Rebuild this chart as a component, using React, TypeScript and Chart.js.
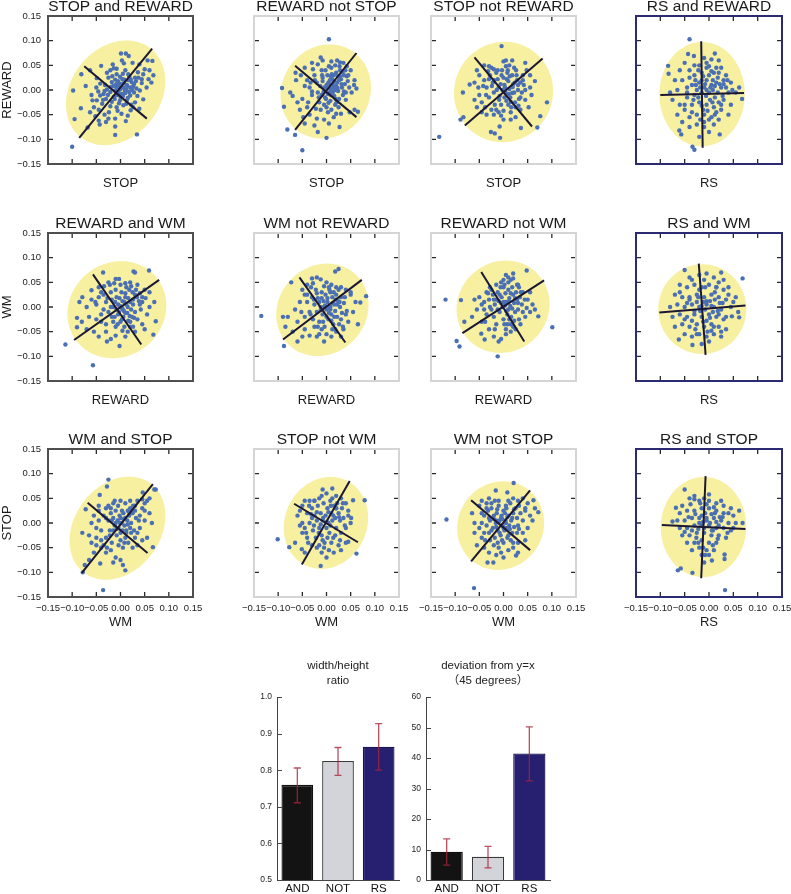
import React, { useEffect, useRef } from 'react';
import { Chart, registerables } from 'chart.js';

Chart.register(...registerables);
Chart.defaults.font.family = '"Liberation Sans", Arial, "Noto Sans CJK JP", sans-serif';
Chart.defaults.color = '#222';

type Pt = [number, number];

// ---------- tick values / labels ----------
const AXIS_TICKS = [-0.15, -0.1, -0.05, 0, 0.05, 0.1, 0.15];
const INNER_TICKS = [-0.1, -0.05, 0, 0.05, 0.1];

const PANEL_TITLES = [
  'STOP and REWARD', 'REWARD not STOP', 'STOP not REWARD', 'RS and REWARD',
  'REWARD and WM', 'WM not REWARD', 'REWARD not WM', 'RS and WM',
  'WM and STOP', 'STOP not WM', 'WM not STOP', 'RS and STOP',
];
const X_LABELS = [
  'STOP', 'STOP', 'STOP', 'RS',
  'REWARD', 'REWARD', 'REWARD', 'RS',
  'WM', 'WM', 'WM', 'RS',
];
const Y_LABELS = ['REWARD', 'WM', 'STOP'];

// ---------- scatter points ----------
const stopAndReward: Pt[] = [
  [-0.100,-0.115],[0.034,-0.090],[-0.098,-0.001],[-0.095,-0.059],[-0.081,0.032],[-0.082,-0.037],[-0.063,0.040],[-0.068,-0.076],[-0.072,0.008],
  [0.001,0.074],[0.011,0.074],[0.017,0.069],[0.056,0.060],[0.066,0.059],[0.039,0.052],[0.025,0.055],[0.007,0.054],[0.047,0.032],[0.068,0.030],[0.064,0.015],[0.044,0.014],[0.030,0.025],[0.016,0.032],[0.005,0.033],[-0.008,0.043],[-0.014,0.044],[-0.021,0.040],[-0.028,0.035],[-0.040,0.049],[-0.049,0.024],[-0.046,-0.003],[-0.042,-0.011],[-0.049,-0.021],[-0.058,-0.021],[-0.038,-0.028],[-0.063,-0.045],[-0.052,-0.053],[-0.043,-0.070],[-0.045,-0.062],[-0.033,-0.050],[-0.025,-0.058],[-0.011,-0.058],[-0.011,-0.074],[-0.011,-0.091],[0.002,-0.048],[0.011,-0.063],[0.021,-0.041],[0.026,-0.035],[0.039,-0.038],[0.047,-0.019],[0.035,-0.012],[0.013,-0.021],[-0.001,-0.021],[-0.014,-0.014],[-0.021,-0.004],[-0.028,0.001],[-0.035,-0.008],[-0.008,0.006],[-0.001,0.013],[0.006,0.005],[0.013,0.010],[0.020,0.005],[0.026,0.007],[0.033,0.003],[0.009,-0.002],[-0.004,-0.006],[-0.011,-0.001],[-0.018,0.016],[-0.011,0.021],[-0.025,0.025],[0.016,0.020],[0.023,0.016],[0.008,0.021],[-0.001,0.027],[-0.008,0.032],[0.040,-0.001],[0.054,0.005],[-0.042,0.013],[-0.021,-0.033],[-0.008,-0.035],[0.006,-0.031],[-0.030,-0.018],[0.000,-0.014],[0.020,-0.011],[-0.001,0.001],
  [0.003,-0.008],[0.012,0.001],[-0.015,0.008],[0.018,-0.004],[-0.005,0.018],[0.028,0.012],[-0.032,0.010],[-0.018,-0.024],[0.010,0.040],[-0.006,-0.042],[0.030,-0.025],[-0.055,-0.035],[0.050,0.042],[0.058,0.022],[-0.030,-0.065],[0.015,-0.052],
  [-0.004,0.010],[0.007,0.014],[0.015,-0.016],[-0.020,0.006],[0.024,0.000],[-0.012,-0.018],[0.004,0.022],[-0.026,-0.010],[0.032,0.018],[0.018,0.028],[-0.036,-0.020],[0.012,-0.028],[-0.003,-0.027],[0.028,-0.005],[-0.017,0.028],[0.037,0.025],[0.044,0.022],[-0.045,-0.040],[-0.024,-0.045],[0.005,-0.012],[-0.009,0.012],[0.021,0.022],[-0.033,-0.002],[0.010,-0.006],[0.000,0.004],[-0.007,-0.010],[0.014,0.008],[0.036,0.036],[-0.050,0.005],[0.022,-0.030],[0.060,0.040],[-0.016,0.052],[0.003,0.060],[-0.060,-0.010],
];
const rewardNotStop: Pt[] = [
  [0.005,0.103],[-0.050,-0.122],[-0.092,0.004],[-0.081,-0.080],[-0.065,-0.091],[0.000,-0.097],[-0.088,-0.034],[0.027,-0.075],[0.065,-0.044],[0.057,0.010],
  [-0.063,0.020],[-0.075,-0.005],[-0.070,-0.012],[-0.064,0.035],[-0.053,0.030],[-0.045,0.045],[-0.030,0.055],[-0.012,0.066],[-0.008,0.060],[0.010,0.058],[0.022,0.060],[0.028,0.056],[0.035,0.055],[0.042,0.048],[0.050,0.040],[0.045,0.030],[0.058,0.020],[0.062,0.003],[0.052,-0.005],[0.040,-0.020],[0.058,-0.040],[0.048,-0.045],[0.030,-0.048],[0.015,-0.055],[-0.005,-0.060],[-0.020,-0.058],[-0.035,-0.050],[-0.048,-0.055],[-0.055,-0.040],[-0.060,-0.025],[-0.045,-0.068],[-0.025,-0.072],[-0.018,-0.085],[0.005,-0.068],
  [-0.040,0.020],[-0.035,0.005],[-0.030,-0.010],[-0.025,0.030],[-0.020,0.015],[-0.018,-0.005],[-0.015,-0.025],[-0.010,0.040],[-0.008,0.025],[-0.005,0.005],[-0.003,-0.015],[0.000,-0.035],[0.002,0.030],[0.004,0.015],[0.006,-0.005],[0.008,-0.022],[0.010,0.045],[0.012,0.022],[0.014,0.006],[0.016,-0.012],[0.018,-0.030],[0.020,0.035],[0.022,0.015],[0.024,-0.002],[0.026,-0.018],[0.028,0.040],[0.030,0.022],[0.032,0.005],[0.034,-0.010],[0.036,0.030],[0.038,0.012],[-0.028,0.042],[-0.038,-0.025],[-0.012,-0.040],[0.005,0.048],[0.040,-0.005],[0.044,0.018],[-0.022,-0.038],[-0.045,0.008],[-0.050,-0.018],[0.015,0.030],[0.000,0.010],[-0.010,-0.010],[0.010,-0.040],[0.025,-0.035],[0.018,0.050],[-0.002,0.040],[0.008,0.002],[0.020,0.008],[-0.008,0.018],[0.012,-0.005],[0.003,-0.008],[0.028,0.028],[0.016,0.018],
  [0.001,0.004],[0.009,-0.010],[0.017,0.000],[-0.006,-0.004],[0.013,0.012],[0.023,0.004],[-0.013,0.008],[0.007,0.020],[0.019,-0.018],[-0.016,-0.015],[0.031,0.012],[0.026,0.020],[-0.024,0.020],[0.004,-0.026],[0.011,0.032],[-0.001,-0.018],[0.036,-0.003],[0.021,-0.025],[-0.030,-0.003],[0.006,0.012],[0.014,-0.003],[-0.009,0.030],[0.033,0.036],[0.042,0.028],[0.027,0.048],[-0.033,0.015],[0.003,-0.045],[0.020,-0.048],[-0.040,-0.035],[0.047,0.005],[-0.018,0.052],[0.009,0.028],[0.024,0.028],[-0.005,-0.030],[0.039,0.040],
];
const stopNotReward: Pt[] = [
  [-0.133,-0.095],[-0.004,0.089],[0.070,-0.076],[0.090,-0.025],[0.076,-0.053],[-0.089,-0.060],[-0.083,-0.055],[-0.084,-0.005],[-0.070,0.011],[-0.007,-0.097],[-0.018,-0.088],[-0.026,-0.085],[0.036,-0.077],[-0.008,-0.074],
  [-0.055,0.040],[-0.050,0.030],[-0.040,0.050],[-0.030,0.048],[-0.020,0.042],[0.000,0.058],[0.005,0.060],[0.018,0.060],[0.012,0.050],[0.045,0.055],[0.048,0.040],[0.040,0.030],[0.055,0.030],[0.065,0.018],[0.055,0.005],[0.058,-0.010],[0.045,-0.020],[0.052,-0.035],[0.035,-0.040],[0.025,-0.055],[0.015,-0.060],[-0.005,-0.052],[-0.020,-0.050],[-0.035,-0.050],[-0.045,-0.045],[-0.055,-0.035],[-0.060,-0.020],[-0.050,-0.010],[-0.060,0.015],[-0.052,0.005],
  [-0.040,0.020],[-0.035,0.005],[-0.030,-0.015],[-0.028,0.030],[-0.022,0.015],[-0.020,-0.005],[-0.018,-0.030],[-0.015,0.035],[-0.012,0.022],[-0.010,0.005],[-0.008,-0.012],[-0.005,-0.030],[-0.003,0.040],[0.000,0.025],[0.002,0.010],[0.004,-0.005],[0.006,-0.022],[0.008,0.035],[0.010,0.018],[0.012,0.002],[0.014,-0.015],[0.016,-0.035],[0.018,0.030],[0.020,0.012],[0.022,-0.005],[0.024,-0.025],[0.026,0.040],[0.028,0.020],[0.030,0.000],[0.032,-0.018],[0.035,0.015],[0.038,-0.005],[-0.045,-0.025],[-0.038,-0.035],[-0.025,0.045],[0.005,0.048],[0.042,0.010],[0.015,-0.045],[-0.002,0.000],[0.010,-0.030],[-0.015,-0.040],[0.022,0.045],[-0.032,0.038],[0.000,-0.042],
  [0.003,0.005],[-0.006,0.012],[0.011,-0.008],[0.019,0.006],[-0.014,0.000],[0.007,0.022],[0.023,0.015],[-0.019,0.020],[-0.024,0.008],[0.015,-0.024],[0.030,0.010],[-0.009,-0.020],[0.002,-0.015],[0.027,0.030],[-0.030,0.022],[0.018,-0.006],[0.009,0.040],[-0.012,0.040],[0.035,-0.015],[0.040,0.020],[-0.036,-0.010],[0.025,-0.035],[-0.025,-0.040],[0.013,0.028],[-0.004,0.030],[0.031,-0.032],[-0.042,0.008],[0.045,0.000],[0.000,-0.060],[-0.010,-0.045],
];
const rsAndReward: Pt[] = [
  [-0.040,0.103],[-0.034,-0.115],[-0.030,-0.121],[-0.084,0.049],[-0.083,0.033],[0.068,-0.018],[0.062,0.005],[-0.061,-0.082],[-0.057,-0.090],[0.022,-0.090],[0.012,0.074],[-0.043,0.073],[-0.031,0.069],
  [-0.010,0.065],[0.005,0.062],[0.020,0.060],[-0.050,0.055],[-0.020,0.050],[0.000,0.048],[0.025,0.045],[0.035,0.030],[-0.060,0.040],[-0.040,0.040],[-0.070,0.020],[-0.055,0.020],[-0.030,0.030],[-0.015,0.035],[0.010,0.035],[0.030,0.020],[0.045,0.015],[0.055,-0.005],[-0.080,-0.005],[-0.065,0.000],[-0.045,0.005],[-0.035,0.010],[-0.020,0.015],[-0.005,0.020],[0.005,0.010],[0.015,0.015],[0.025,0.005],[0.040,-0.005],[-0.075,-0.020],[-0.060,-0.030],[-0.045,-0.015],[-0.030,-0.010],[-0.015,-0.005],[0.000,-0.005],[0.012,-0.015],[0.030,-0.020],[0.045,-0.030],[-0.065,-0.050],[-0.050,-0.040],[-0.035,-0.030],[-0.020,-0.025],[-0.005,-0.030],[0.010,-0.035],[0.025,-0.040],[0.040,-0.050],[-0.055,-0.065],[-0.040,-0.055],[-0.025,-0.050],[-0.010,-0.050],[0.005,-0.055],[0.020,-0.060],[-0.040,-0.075],[-0.025,-0.070],[-0.010,-0.075],[0.000,-0.085],[-0.020,-0.095],[0.010,-0.070],
  [-0.010,0.005],[-0.025,0.000],[-0.005,0.000],[0.008,0.000],[-0.015,0.020],[0.000,0.030],[-0.028,0.020],[0.018,0.025],[-0.022,-0.015],[0.018,-0.005],[-0.012,-0.040],[0.002,-0.020],[-0.030,0.050],[0.015,0.045],[-0.045,-0.005],[0.035,0.005],[-0.035,-0.045],[0.020,-0.025],[-0.005,0.045],[-0.018,-0.060],
  [-0.008,0.012],[0.003,0.005],[0.012,0.008],[-0.018,0.005],[0.022,0.012],[-0.006,-0.012],[0.007,-0.025],[-0.015,-0.032],[0.015,-0.045],[-0.003,-0.042],[0.028,-0.012],[-0.027,0.010],[0.005,0.038],[-0.012,0.028],[0.020,0.035],[-0.032,-0.020],[0.030,0.012],[0.000,-0.060],[-0.010,-0.065],[0.012,-0.050],[-0.040,0.025],[0.038,0.020],[-0.022,0.040],[0.008,0.020],[0.025,-0.030],[-0.050,-0.030],[0.048,0.000],[-0.005,0.055],
];
const rewardAndWm: Pt[] = [
  [-0.114,-0.076],[-0.057,-0.118],[-0.002,-0.079],[0.068,-0.056],[0.059,0.074],[0.027,0.072],[0.030,0.070],[-0.036,0.070],[-0.090,-0.022],[-0.090,-0.041],[-0.079,0.020],[0.073,-0.029],
  [-0.060,0.034],[-0.045,0.040],[-0.025,0.050],[-0.010,0.057],[-0.003,0.057],[0.010,0.048],[0.020,0.050],[0.035,0.045],[0.050,0.035],[0.060,0.030],[0.070,0.010],[0.060,0.000],[0.045,0.020],[0.030,0.025],[0.040,0.005],[0.055,-0.015],[0.045,-0.035],[0.050,-0.045],[0.030,-0.050],[0.020,-0.040],[0.010,-0.060],[-0.010,-0.058],[-0.030,-0.050],[-0.045,-0.060],[-0.055,-0.050],[-0.070,-0.045],[-0.080,-0.030],[-0.065,-0.020],[-0.070,0.000],[-0.085,0.010],[-0.060,0.015],[-0.050,0.005],[-0.020,-0.065],[-0.040,-0.030],[-0.028,-0.070],
  [-0.045,0.020],[-0.035,0.025],[-0.030,0.010],[-0.025,-0.010],[-0.020,0.030],[-0.018,0.015],[-0.015,0.000],[-0.012,-0.020],[-0.010,0.035],[-0.008,0.020],[-0.005,0.005],[-0.003,-0.010],[0.000,-0.030],[0.002,0.030],[0.004,0.012],[0.005,-0.005],[0.006,-0.020],[0.008,-0.040],[0.010,0.020],[0.012,0.005],[0.014,-0.012],[0.016,-0.028],[0.018,0.035],[0.020,0.010],[0.022,-0.005],[0.024,-0.020],[0.026,0.015],[0.030,-0.010],[0.032,0.035],[0.035,-0.025],[0.038,0.012],[-0.035,-0.005],[-0.040,-0.015],[-0.050,-0.025],[-0.022,0.045],[0.000,0.045],[0.015,-0.050],[-0.010,-0.040],[0.025,0.030],[-0.005,-0.015],[0.003,-0.002],[-0.015,-0.030],[0.010,-0.012],[-0.008,-0.005],[0.042,-0.005],
  [-0.001,0.002],[0.007,-0.008],[0.015,0.000],[-0.011,0.010],[0.019,-0.018],[0.003,-0.025],[-0.018,-0.020],[0.026,0.005],[0.010,0.028],[-0.027,0.018],[0.034,0.020],[0.020,-0.030],[-0.006,-0.035],[0.040,0.028],[-0.040,0.030],[0.012,0.040],[-0.013,0.048],[0.026,-0.040],[-0.030,-0.035],[0.045,0.010],[0.008,0.010],[-0.002,0.018],[0.016,0.018],[-0.020,0.000],[0.028,-0.022],[0.004,-0.048],[-0.052,0.010],[0.052,0.018],[-0.034,0.042],[0.022,0.042],
];
const wmNotReward: Pt[] = [
  [-0.135,-0.018],[-0.088,-0.079],[-0.073,0.050],[0.082,0.022],[0.070,0.009],[0.025,0.077],[0.018,0.072],[-0.012,0.056],[-0.020,0.060],[-0.030,0.058],
  [-0.090,-0.020],[-0.085,-0.040],[-0.080,-0.020],[-0.070,-0.050],[-0.060,-0.030],[-0.065,-0.005],[-0.055,0.010],[-0.050,0.035],[-0.045,0.025],[-0.040,0.045],[0.000,0.050],[0.010,0.045],[0.020,0.040],[0.030,0.040],[0.040,0.035],[0.050,0.025],[0.060,0.010],[0.055,-0.010],[0.040,-0.015],[0.045,-0.030],[0.035,-0.045],[0.020,-0.050],[0.010,-0.060],[-0.005,-0.070],[-0.020,-0.060],[-0.035,-0.058],[-0.050,-0.060],[-0.060,-0.070],[-0.045,-0.045],[0.030,-0.060],[0.065,-0.035],
  [-0.040,0.010],[-0.035,-0.010],[-0.030,0.020],[-0.028,-0.025],[-0.025,0.005],[-0.022,0.035],[-0.020,-0.010],[-0.018,0.018],[-0.015,-0.030],[-0.012,0.000],[-0.010,0.030],[-0.008,-0.015],[-0.006,0.012],[-0.004,-0.040],[-0.002,0.025],[0.000,-0.005],[0.002,0.010],[0.004,-0.025],[0.006,0.035],[0.008,0.000],[0.010,-0.015],[0.012,0.020],[0.014,-0.035],[0.016,0.005],[0.018,-0.008],[0.020,0.025],[0.022,-0.020],[0.024,0.012],[0.026,-0.035],[0.028,0.000],[0.030,0.020],[0.032,-0.012],[0.036,0.008],[-0.045,-0.020],[-0.032,0.040],[-0.010,-0.045],[0.005,0.040],[0.015,0.030],[-0.015,-0.055],[0.000,-0.020],[-0.025,-0.040],[0.018,-0.045],[-0.005,0.000],[-0.015,0.010],[0.008,-0.005],
  [-0.003,0.003],[0.005,-0.012],[0.013,0.008],[-0.012,-0.006],[0.019,0.015],[-0.020,0.028],[0.027,0.010],[0.010,-0.028],[-0.007,-0.030],[0.022,0.005],[0.002,0.018],[-0.026,0.015],[0.030,-0.025],[0.016,-0.020],[-0.033,-0.015],[0.038,0.020],[-0.005,0.042],[0.025,0.035],[-0.040,0.025],[0.042,-0.008],[0.008,0.030],[-0.018,-0.040],[0.000,-0.055],[0.012,-0.045],[-0.052,-0.010],[0.050,0.030],[-0.028,0.048],[0.034,-0.040],[0.006,-0.002],[-0.010,0.018],
];
const rewardNotWm: Pt[] = [
  [-0.120,0.015],[0.101,-0.041],[-0.097,-0.069],[-0.091,-0.080],[-0.012,-0.100],[0.048,0.074],[-0.088,0.014],[-0.081,-0.030],[-0.039,-0.066],[-0.046,-0.054],[0.072,-0.019],
  [-0.060,0.015],[-0.050,0.020],[-0.040,0.010],[-0.055,-0.005],[-0.065,-0.020],[-0.045,-0.030],[-0.030,-0.045],[-0.020,-0.060],[-0.005,-0.065],[0.005,-0.055],[0.015,-0.050],[0.025,-0.045],[0.035,-0.035],[0.045,-0.020],[0.055,-0.010],[0.060,0.005],[0.050,0.015],[0.055,0.030],[0.040,0.030],[0.030,0.045],[0.015,0.055],[0.010,0.060],[0.005,0.065],[-0.005,0.050],[-0.015,0.045],[-0.025,0.035],[-0.035,0.030],[0.065,-0.005],[-0.010,-0.070],[0.020,0.068],
  [-0.030,0.015],[-0.025,-0.005],[-0.022,0.025],[-0.020,-0.020],[-0.018,0.005],[-0.015,-0.035],[-0.012,0.030],[-0.010,0.012],[-0.008,-0.010],[-0.006,0.040],[-0.004,0.020],[-0.002,0.000],[0.000,-0.025],[0.002,0.045],[0.004,0.028],[0.005,0.010],[0.006,-0.008],[0.008,-0.035],[0.010,0.035],[0.012,0.018],[0.014,0.002],[0.016,-0.020],[0.018,0.040],[0.020,0.025],[0.022,0.008],[0.024,-0.010],[0.026,0.030],[0.028,0.015],[0.030,-0.005],[0.032,-0.025],[0.034,0.020],[0.038,0.005],[-0.035,-0.015],[-0.040,-0.005],[0.000,0.055],[0.015,-0.035],[0.040,-0.010],[-0.028,0.040],[0.010,-0.005],[0.000,0.010],[0.020,-0.040],[-0.015,0.015],
  [0.003,0.003],[0.011,0.012],[-0.005,0.008],[0.018,-0.003],[0.008,-0.015],[-0.012,-0.005],[0.024,0.018],[0.015,0.028],[-0.020,0.015],[0.030,0.008],[0.002,-0.035],[-0.008,0.025],[0.036,0.030],[0.022,-0.028],[-0.028,0.000],[0.044,0.015],[0.010,0.050],[0.028,0.045],[-0.045,0.005],[0.048,-0.002],[-0.018,-0.045],[0.005,-0.045],[0.032,0.040],[-0.032,0.028],[0.020,0.058],[0.000,0.040],[0.012,-0.025],[-0.038,-0.030],
];
const rsAndWm: Pt[] = [
  [0.069,0.058],[-0.050,0.075],[0.025,0.070],[-0.034,-0.077],[-0.062,-0.066],[0.062,-0.021],[0.047,-0.019],
  [-0.040,0.060],[-0.020,0.065],[-0.005,0.068],[0.010,0.060],[0.030,0.055],[-0.060,0.045],[-0.045,0.040],[-0.030,0.045],[-0.015,0.040],[0.000,0.045],[0.015,0.040],[0.030,0.035],[0.040,0.025],[-0.070,0.025],[-0.055,0.020],[-0.040,0.020],[-0.025,0.025],[-0.010,0.020],[0.005,0.025],[0.020,0.020],[0.035,0.015],[0.050,0.010],[-0.080,0.000],[-0.065,0.005],[-0.050,0.000],[-0.035,0.005],[-0.020,0.000],[-0.005,0.005],[0.010,0.000],[0.025,-0.005],[0.045,0.000],[0.060,-0.010],[-0.075,-0.020],[-0.060,-0.015],[-0.045,-0.020],[-0.030,-0.015],[-0.015,-0.020],[0.000,-0.015],[0.015,-0.020],[0.030,-0.025],[-0.070,-0.040],[-0.055,-0.035],[-0.040,-0.040],[-0.025,-0.035],[-0.010,-0.040],[0.005,-0.035],[0.020,-0.040],[0.035,-0.045],[-0.050,-0.055],[-0.035,-0.060],[-0.020,-0.055],[-0.005,-0.060],[0.010,-0.055],[0.025,-0.060],[-0.015,-0.075],[0.000,-0.070],
  [-0.012,0.010],[-0.018,-0.008],[-0.008,-0.005],[0.002,0.012],[-0.025,0.010],[-0.005,-0.028],[0.008,-0.010],[-0.020,0.035],[0.012,0.030],[-0.035,-0.028],[0.018,-0.008],[-0.010,0.055],[-0.028,-0.045],[0.005,-0.048],[-0.045,0.008],[0.022,0.008],
  [-0.005,0.012],[0.005,0.002],[-0.015,0.002],[0.012,0.015],[-0.022,0.020],[0.020,-0.015],[-0.030,-0.008],[0.002,-0.022],[-0.012,-0.030],[0.028,0.008],[-0.040,0.015],[0.015,0.040],[-0.008,0.040],[0.035,-0.020],[-0.050,-0.025],[0.010,-0.040],[-0.025,-0.055],[0.040,0.040],[-0.060,0.030],[0.055,0.020],[-0.003,-0.050],[0.020,0.050],[-0.035,0.055],[0.025,-0.050],
];
const wmAndStop: Pt[] = [
  [-0.036,-0.136],[-0.025,0.088],[-0.028,0.074],[-0.043,0.057],[0.073,0.068],[0.067,-0.049],[0.010,-0.096],[-0.078,-0.100],[-0.074,-0.085],[-0.079,-0.020],[-0.072,0.028],[0.046,0.062],[-0.042,-0.082],
  [0.070,0.068],[0.055,0.045],[0.045,0.048],[0.035,0.045],[0.030,0.035],[0.050,0.025],[0.060,0.020],[0.065,0.000],[0.050,0.005],[0.040,0.015],[0.020,0.030],[0.010,0.040],[0.000,0.045],[-0.015,0.040],[-0.030,0.030],[-0.045,0.025],[-0.055,0.015],[-0.060,0.000],[-0.065,-0.025],[-0.060,-0.040],[-0.050,-0.045],[-0.040,-0.050],[-0.030,-0.060],[-0.020,-0.055],[-0.010,-0.070],[0.000,-0.075],[0.005,-0.085],[-0.015,-0.080],[-0.055,-0.060],[-0.065,-0.075],[0.025,-0.050],[0.035,-0.045],[0.045,-0.035],[0.055,-0.030],[0.030,-0.030],[0.040,-0.010],
  [-0.045,0.005],[-0.040,-0.015],[-0.035,0.015],[-0.030,-0.030],[-0.025,0.005],[-0.022,-0.015],[-0.020,0.020],[-0.018,-0.040],[-0.015,0.010],[-0.012,-0.005],[-0.010,0.025],[-0.008,-0.025],[-0.006,0.005],[-0.004,-0.010],[-0.002,0.015],[0.000,-0.035],[0.002,0.000],[0.004,-0.015],[0.006,0.020],[0.008,-0.005],[0.010,0.010],[0.012,-0.020],[0.014,0.005],[0.016,-0.040],[0.018,0.015],[0.020,-0.010],[0.022,0.000],[0.025,0.020],[0.028,-0.015],[0.032,0.010],[-0.050,-0.030],[-0.035,-0.045],[-0.005,0.035],[0.015,0.025],[-0.025,0.035],[0.005,-0.050],[-0.010,0.000],[0.000,0.010],[-0.015,-0.015],[0.010,-0.030],
  [-0.001,0.000],[0.007,0.008],[-0.008,-0.012],[0.015,-0.003],[-0.018,0.005],[0.003,0.025],[0.018,0.022],[-0.022,-0.025],[0.022,-0.020],[-0.030,0.010],[0.030,0.025],[0.012,-0.015],[-0.004,-0.045],[0.026,0.035],[-0.040,-0.035],[0.038,0.005],[-0.012,0.045],[0.008,-0.040],[-0.028,-0.050],[0.045,0.030],[-0.050,-0.010],[0.020,0.045],[0.035,-0.020],[-0.020,0.030],[0.000,-0.020],[-0.045,0.035],[0.050,0.040],[0.060,0.050],
];
const stopNotWm: Pt[] = [
  [-0.101,-0.033],[0.062,-0.062],[0.079,0.046],[-0.012,-0.087],[-0.077,-0.049],[-0.051,-0.053],[-0.008,0.068],[0.012,0.070],[0.055,0.046],[0.051,0.010],[0.045,-0.038],
  [-0.045,0.045],[-0.035,0.045],[-0.025,0.045],[-0.010,0.055],[0.000,0.060],[0.020,0.055],[0.030,0.050],[0.040,0.040],[0.045,0.025],[0.050,0.000],[0.040,-0.010],[0.030,-0.020],[0.040,-0.040],[0.025,-0.045],[0.015,-0.060],[0.005,-0.055],[-0.010,-0.060],[-0.020,-0.050],[-0.030,-0.045],[-0.040,-0.030],[-0.050,-0.020],[-0.055,-0.005],[-0.060,0.015],[-0.055,0.025],[-0.050,0.035],[-0.065,-0.040],[-0.045,-0.060],[0.030,-0.055],[0.000,-0.070],[0.020,0.030],
  [-0.040,0.020],[-0.035,0.000],[-0.030,0.030],[-0.028,-0.015],[-0.025,0.015],[-0.022,-0.030],[-0.020,0.005],[-0.018,0.035],[-0.015,-0.010],[-0.012,0.020],[-0.010,-0.025],[-0.008,0.005],[-0.006,0.040],[-0.004,-0.040],[-0.002,0.015],[0.000,-0.010],[0.002,0.030],[0.004,0.000],[0.006,-0.020],[0.008,0.045],[0.010,0.020],[0.012,0.005],[0.014,-0.030],[0.016,0.035],[0.018,0.010],[0.020,-0.010],[0.022,0.040],[0.025,0.020],[0.028,0.005],[0.032,0.030],[-0.045,-0.010],[-0.038,-0.040],[0.035,0.010],[-0.015,0.050],[-0.005,-0.050],[0.010,-0.040],[-0.030,0.010],
  [0.001,0.002],[-0.007,0.010],[0.008,-0.005],[-0.012,-0.003],[0.014,0.015],[-0.020,0.022],[0.004,0.022],[-0.026,-0.005],[0.020,0.030],[-0.016,-0.020],[0.009,0.035],[0.026,0.012],[-0.032,0.018],[-0.008,-0.035],[0.018,-0.025],[0.034,0.040],[-0.036,0.035],[0.002,-0.030],[0.038,-0.005],[-0.042,-0.020],[0.028,-0.035],[-0.025,0.045],[0.012,0.050],[0.045,0.015],[-0.050,0.000],[-0.015,-0.045],
];
const wmNotStop: Pt[] = [
  [-0.118,0.007],[-0.061,-0.132],[0.021,0.081],[0.072,0.022],[0.062,0.046],[-0.033,-0.080],[-0.021,-0.080],[0.026,-0.066],[0.008,0.062],[-0.016,0.066],
  [-0.065,0.020],[-0.060,0.000],[-0.060,-0.020],[-0.055,-0.045],[-0.050,0.035],[-0.045,0.045],[-0.035,0.040],[-0.030,0.050],[-0.010,0.045],[0.020,0.050],[0.030,0.045],[0.040,0.050],[0.050,0.040],[0.045,0.025],[0.055,0.015],[0.060,0.005],[0.050,-0.010],[0.040,-0.020],[0.045,-0.035],[0.030,-0.040],[0.020,-0.050],[0.010,-0.055],[-0.005,-0.060],[-0.015,-0.065],[-0.030,-0.060],[-0.040,-0.050],[-0.045,-0.030],[-0.050,-0.010],[0.030,-0.060],[0.000,-0.070],[0.065,0.030],
  [-0.040,0.015],[-0.035,-0.005],[-0.032,0.025],[-0.030,-0.020],[-0.028,0.005],[-0.025,0.030],[-0.022,-0.010],[-0.020,0.015],[-0.018,-0.030],[-0.016,0.000],[-0.014,0.020],[-0.012,-0.015],[-0.010,0.035],[-0.008,0.005],[-0.006,-0.025],[-0.004,0.015],[-0.002,-0.005],[0.000,0.025],[0.002,-0.015],[0.004,0.005],[0.006,0.030],[0.008,-0.030],[0.010,0.015],[0.012,-0.005],[0.014,0.040],[0.016,0.005],[0.018,-0.020],[0.020,0.020],[0.022,-0.008],[0.025,0.030],[0.028,0.010],[0.032,-0.012],[0.035,0.020],[-0.045,0.000],[-0.038,-0.035],[-0.025,0.040],[0.000,-0.040],[0.015,-0.035],[-0.015,0.005],[-0.005,0.010],[0.005,-0.010],[-0.020,-0.045],[0.010,0.045],[-0.012,-0.040],
  [-0.010,0.002],[-0.003,0.008],[0.005,0.000],[-0.015,-0.008],[0.008,0.012],[-0.020,0.008],[0.000,-0.010],[-0.008,-0.020],[0.013,-0.012],[-0.025,-0.015],[0.018,0.010],[-0.013,0.028],[0.003,0.020],[0.022,0.028],[-0.030,0.010],[0.028,-0.020],[-0.035,0.030],[0.010,-0.025],[0.032,0.035],[-0.003,-0.035],[-0.040,-0.020],[0.040,0.005],[-0.018,0.045],[0.020,-0.040],[-0.028,-0.035],[0.045,0.030],[0.005,0.035],[-0.045,0.020],[0.030,-0.005],[-0.010,-0.050],
];
const rsAndStop: Pt[] = [
  [0.033,-0.136],[-0.064,-0.096],[-0.058,-0.092],[-0.034,-0.101],[-0.050,0.068],[0.062,0.025],[0.069,0.000],[0.032,-0.064],[0.032,-0.073],[0.006,-0.076],[-0.068,0.031],[-0.075,0.003],
  [-0.040,0.050],[-0.030,0.048],[-0.020,0.045],[-0.010,0.050],[0.000,0.045],[0.015,0.040],[0.030,0.035],[0.045,0.030],[-0.060,0.020],[-0.045,0.025],[-0.030,0.025],[-0.015,0.030],[0.000,0.030],[0.015,0.025],[0.030,0.020],[0.050,0.015],[-0.065,0.005],[-0.050,0.005],[-0.035,0.010],[-0.020,0.010],[-0.005,0.010],[0.010,0.010],[0.025,0.005],[0.040,0.000],[0.055,0.000],[-0.060,-0.010],[-0.045,-0.010],[-0.030,-0.005],[-0.015,-0.005],[0.000,-0.005],[0.015,-0.010],[0.030,-0.010],[0.045,-0.015],[-0.055,-0.025],[-0.040,-0.025],[-0.025,-0.020],[-0.010,-0.020],[0.005,-0.025],[0.020,-0.025],[0.035,-0.030],[-0.045,-0.040],[-0.030,-0.040],[-0.015,-0.035],[0.000,-0.040],[0.015,-0.040],[-0.035,-0.055],[-0.020,-0.050],[-0.005,-0.055],[0.010,-0.055],[-0.015,-0.065],[0.000,-0.065],[-0.010,-0.080],
  [-0.012,0.002],[-0.008,0.020],[-0.022,-0.012],[0.005,0.018],[-0.018,0.040],[0.008,-0.015],[-0.038,0.038],[0.022,0.012],[-0.026,-0.030],[0.010,0.032],[-0.050,-0.018],[0.038,-0.020],
  [-0.005,0.005],[-0.015,0.015],[0.002,0.000],[-0.020,0.000],[0.012,0.020],[-0.010,-0.010],[0.020,-0.005],[-0.028,0.018],[0.006,-0.015],[-0.035,-0.015],[0.028,0.012],[-0.005,0.038],[0.018,-0.032],[-0.022,-0.040],[0.040,0.020],[-0.042,0.012],[0.008,-0.045],[-0.012,-0.050],[0.025,0.045],[-0.030,0.055],[0.050,-0.010],[-0.055,0.035],[0.000,0.058],[-0.008,-0.065],[0.015,0.002],
];

const PANEL_POINTS: Pt[][] = [
  stopAndReward, rewardNotStop, stopNotReward, rsAndReward,
  rewardAndWm, wmNotReward, rewardNotWm, rsAndWm,
  wmAndStop, stopNotWm, wmNotStop, rsAndStop,
];

// principal axes of each ellipse (end points, data units)
const MAJOR_AXES: Pt[][] = [
  [[-0.0855,-0.097],[0.0655,0.084]], [[-0.065,-0.081],[0.062,0.075]], [[-0.080,-0.072],[0.081,0.064]], [[-0.013,-0.117],[-0.016,0.099]],
  [[-0.096,-0.067],[0.080,0.055]], [[-0.090,-0.066],[0.073,0.055]], [[-0.085,-0.053],[0.084,0.054]], [[-0.007,-0.097],[-0.021,0.088]],
  [[-0.080,-0.101],[0.067,0.079]], [[-0.051,-0.084],[0.048,0.085]], [[-0.067,-0.078],[0.055,0.066]], [[-0.016,-0.112],[-0.007,0.095]],
];
const MINOR_AXES: Pt[][] = [
  [[-0.075,0.048],[0.0545,-0.058]], [[-0.065,0.049],[0.062,-0.055]], [[-0.060,0.066],[0.059,-0.074]], [[-0.100,-0.010],[0.072,-0.006]],
  [[-0.057,0.066],[0.043,-0.076]], [[-0.056,0.060],[0.039,-0.072]], [[-0.046,0.071],[0.043,-0.070]], [[-0.102,-0.011],[0.075,0.003]],
  [[-0.068,0.041],[0.056,-0.061]], [[-0.067,0.039],[0.065,-0.039]], [[-0.067,0.046],[0.055,-0.055]], [[-0.097,-0.004],[0.075,-0.012]],
];

// ---------- bar charts ----------
const BAR_CATS = ['AND', 'NOT', 'RS'];
const RATIO_MEAN = [0.760, 0.825, 0.864];
const RATIO_LO = [0.711, 0.786, 0.800];
const RATIO_HI = [0.806, 0.862, 0.927];
const RATIO_TICKS = [0.5, 0.6, 0.7, 0.8, 0.9, 1.0];
const DEV_MEAN = [9.3, 7.6, 41.5];
const DEV_LO = [4.9, 4.0, 32.5];
const DEV_HI = [13.5, 11.0, 50.2];
const DEV_TICKS = [0, 10, 20, 30, 40, 50, 60];

// ---------- layout ----------
const COL_LEFT = [48, 254, 431, 636];
const COL_W = [145, 145, 145, 146];
const ROW_TOP = [16, 233, 449];
const PLOT_H = 148;
const TITLE_H = 22;
const PAD_R = 10;
const FRAME_COLORS = ['#4f4f4f', '#d5d5d5', '#d5d5d5', '#2d2a74'];

const fmtTick = (v: number) => {
  if (Math.abs(v) < 1e-9) return '0.00';
  return v < 0 ? '\u2212' + Math.abs(v).toFixed(2) : v.toFixed(2);
};

function ScatterPanel({ row, col }: { row: number; col: number }) {
  const ref = useRef<HTMLCanvasElement>(null);
  const idx = row * 4 + col;
  const yW = col === 0 ? 48 : 16;
  const xH = row === 2 ? 33 : 27;
  const W = COL_W[col];
  const cw = yW + W + PAD_R;
  const ch = TITLE_H + PLOT_H + xH;
  const left = COL_LEFT[col] - yW;
  const top = ROW_TOP[row] - TITLE_H;

  useEffect(() => {
    const major = MAJOR_AXES[idx];
    const minor = MINOR_AXES[idx];
    const pts = PANEL_POINTS[idx];
    const cx = (major[0][0] + major[1][0] + minor[0][0] + minor[1][0]) / 4;
    const cy = (major[0][1] + major[1][1] + minor[0][1] + minor[1][1]) / 4;
    const Ax = (major[1][0] - major[0][0]) / 2, Ay = (major[1][1] - major[0][1]) / 2;
    const Bx = (minor[1][0] - minor[0][0]) / 2, By = (minor[1][1] - minor[0][1]) / 2;
    const ka = 0.98;
    const kb = col === 3 ? 1.02 : 1.1;

    const ellipsePlugin = {
      id: 'ellipseBg',
      beforeDatasetsDraw(c: any) {
        const { ctx, chartArea, scales } = c;
        const xs = scales.x, ys = scales.y;
        ctx.save();
        ctx.beginPath();
        ctx.rect(chartArea.left, chartArea.top, chartArea.right - chartArea.left, chartArea.bottom - chartArea.top);
        ctx.clip();
        ctx.beginPath();
        const n = 120;
        for (let i = 0; i <= n; i++) {
          const t = (i / n) * Math.PI * 2;
          const ex = cx + ka * Math.cos(t) * Ax + kb * Math.sin(t) * Bx;
          const ey = cy + ka * Math.cos(t) * Ay + kb * Math.sin(t) * By;
          const px = xs.getPixelForValue(ex), py = ys.getPixelForValue(ey);
          if (i === 0) ctx.moveTo(px, py); else ctx.lineTo(px, py);
        }
        ctx.closePath();
        ctx.fillStyle = '#f6f0a0';
        ctx.fill();
        ctx.restore();
      },
    };
    const framePlugin = {
      id: 'frameTicks',
      afterDraw(c: any) {
        const { ctx, chartArea, scales } = c;
        const { left: l, right: r, top: t, bottom: b } = chartArea;
        ctx.save();
        ctx.strokeStyle = '#2a2a2a';
        ctx.lineWidth = 1.3;
        ctx.beginPath();
        INNER_TICKS.forEach((v) => {
          const px = scales.x.getPixelForValue(v);
          ctx.moveTo(px, b); ctx.lineTo(px, b - 5);
          ctx.moveTo(px, t); ctx.lineTo(px, t + 5);
          const py = scales.y.getPixelForValue(v);
          ctx.moveTo(l, py); ctx.lineTo(l + 5, py);
          ctx.moveTo(r, py); ctx.lineTo(r - 5, py);
        });
        ctx.stroke();
        ctx.strokeStyle = FRAME_COLORS[col];
        ctx.lineWidth = 2;
        ctx.strokeRect(l, t, r - l, b - t);
        ctx.restore();
      },
    };

    const chart = new Chart(ref.current!, {
      type: 'scatter',
      data: {
        datasets: [
          { data: major.map(([x, y]) => ({ x, y })), showLine: true, borderColor: '#1c1733', borderWidth: 2, pointRadius: 0 } as any,
          { data: minor.map(([x, y]) => ({ x, y })), showLine: true, borderColor: '#1c1733', borderWidth: 2, pointRadius: 0 } as any,
          { data: pts.map(([x, y]) => ({ x, y })), backgroundColor: '#4a6fb4', borderWidth: 0, pointRadius: 2.2 } as any,
        ],
      },
      options: {
        responsive: false,
        maintainAspectRatio: false,
        animation: false,
        events: [],
        layout: { padding: { left: 0, top: 0, right: PAD_R, bottom: 0 } },
        plugins: {
          legend: { display: false },
          tooltip: { enabled: false },
          title: {
            display: true,
            text: PANEL_TITLES[idx],
            fullSize: false,
            font: { size: 15.5, weight: 'normal', lineHeight: '18px' } as any,
            padding: { top: 4, bottom: 0 },
            color: '#1a1a1a',
          },
        },
        scales: {
          x: {
            type: 'linear',
            min: -0.15,
            max: 0.15,
            afterBuildTicks: (s: any) => { s.ticks = AXIS_TICKS.map((v) => ({ value: v })); },
            afterFit: (s: any) => { s.height = xH; s.paddingLeft = 0; s.paddingRight = 0; },
            ticks: {
              display: row === 2,
              autoSkip: false,
              maxRotation: 0,
              minRotation: 0,
              padding: 6,
              font: { size: 9.5 },
              color: '#222',
              callback: (v: any) => fmtTick(Number(v)),
            },
            grid: { display: false, drawTicks: false },
            border: { display: false },
            title: {
              display: true,
              text: X_LABELS[idx],
              font: { size: 13, lineHeight: '16px' } as any,
              padding: 0,
              color: '#1a1a1a',
            },
          } as any,
          y: {
            type: 'linear',
            min: -0.15,
            max: 0.15,
            afterBuildTicks: (s: any) => { s.ticks = AXIS_TICKS.map((v) => ({ value: v })); },
            afterFit: (s: any) => { s.width = yW; s.paddingTop = 0; s.paddingBottom = 0; },
            ticks: {
              display: col === 0,
              autoSkip: false,
              padding: 7,
              font: { size: 9.5 },
              color: '#222',
              callback: (v: any) => fmtTick(Number(v)),
            },
            grid: { display: false, drawTicks: false },
            border: { display: false },
            title: {
              display: col === 0,
              text: Y_LABELS[row],
              font: { size: 13, lineHeight: '14px' } as any,
              padding: 0,
              color: '#1a1a1a',
            },
          } as any,
        },
      },
      plugins: [ellipsePlugin, framePlugin],
    });
    return () => chart.destroy();
  }, []);

  return (
    <canvas
      ref={ref}
      width={cw}
      height={ch}
      style={{ position: 'absolute', left, top, width: cw, height: ch }}
    />
  );
}

function BarPanel({
  plotLeft, plotW, yW, title, mean, lo, hi, ticks, min, max, decimals,
}: {
  plotLeft: number; plotW: number; yW: number; title: string[]; mean: number[]; lo: number[]; hi: number[];
  ticks: number[]; min: number; max: number; decimals: number;
}) {
  const ref = useRef<HTMLCanvasElement>(null);
  const top = 656;
  const titleH = 41;
  const plotH = 183;
  const xH = 15;
  const padR = 3;
  const cw = yW + plotW + padR;
  const ch = titleH + plotH + xH;

  useEffect(() => {
    const errPlugin = {
      id: 'errBars',
      afterDatasetsDraw(c: any) {
        const { ctx, scales } = c;
        const meta = c.getDatasetMeta(0);
        ctx.save();
        ctx.strokeStyle = 'rgba(168, 36, 58, 0.8)';
        ctx.lineWidth = 1.3;
        meta.data.forEach((bar: any, i: number) => {
          const x = bar.x;
          const y1 = scales.y.getPixelForValue(lo[i]);
          const y2 = scales.y.getPixelForValue(hi[i]);
          ctx.beginPath();
          ctx.moveTo(x, y1); ctx.lineTo(x, y2);
          ctx.moveTo(x - 3.5, y1); ctx.lineTo(x + 3.5, y1);
          ctx.moveTo(x - 3.5, y2); ctx.lineTo(x + 3.5, y2);
          ctx.stroke();
        });
        ctx.restore();
      },
      afterDraw(c: any) {
        const { ctx, chartArea, scales } = c;
        ctx.save();
        ctx.strokeStyle = '#444';
        ctx.lineWidth = 1;
        ctx.beginPath();
        ticks.forEach((v) => {
          const py = Math.round(scales.y.getPixelForValue(v)) + 0.5;
          ctx.moveTo(chartArea.left, py); ctx.lineTo(chartArea.left + 5, py);
        });
        ctx.stroke();
        ctx.restore();
      },
    };

    const chart = new Chart(ref.current!, {
      type: 'bar',
      data: {
        labels: BAR_CATS,
        datasets: [
          {
            data: mean,
            backgroundColor: ['#131313', '#d3d4d9', '#271f70'],
            borderColor: ['#111', '#3a3a3a', '#1a1650'],
            borderWidth: 1.3,
            barPercentage: 0.78,
            categoryPercentage: 1,
          },
        ],
      },
      options: {
        responsive: false,
        maintainAspectRatio: false,
        animation: false,
        events: [],
        layout: { padding: { left: 0, top: 0, right: padR, bottom: 0 } },
        plugins: {
          legend: { display: false },
          tooltip: { enabled: false },
          title: {
            display: true,
            text: title,
            fullSize: false,
            font: { size: 11.5, weight: 'normal', lineHeight: '15px' } as any,
            padding: { top: 2, bottom: 9 },
            color: '#222',
          },
        },
        scales: {
          x: {
            grid: { display: false, drawTicks: false },
            border: { display: true, color: '#444', width: 1 },
            ticks: { font: { size: 11.5 }, color: '#111', padding: 2, maxRotation: 0 },
            afterFit: (s: any) => { s.height = xH; s.paddingLeft = 0; s.paddingRight = 0; },
          } as any,
          y: {
            min,
            max,
            afterBuildTicks: (s: any) => { s.ticks = ticks.map((v) => ({ value: v })); },
            afterFit: (s: any) => { s.width = yW; s.paddingTop = 0; s.paddingBottom = 0; },
            ticks: {
              font: { size: 8.5 },
              color: '#222',
              padding: 5,
              callback: (v: any) => Number(v).toFixed(decimals),
            },
            grid: { display: false, drawTicks: false },
            border: { display: true, color: '#444', width: 1 },
          } as any,
        },
      },
      plugins: [errPlugin],
    });
    return () => chart.destroy();
  }, []);

  return (
    <canvas
      ref={ref}
      width={cw}
      height={ch}
      style={{ position: 'absolute', left: plotLeft - yW, top, width: cw, height: ch }}
    />
  );
}

export default function App() {
  const panels: React.ReactNode[] = [];
  for (let r = 0; r < 3; r++) {
    for (let c = 0; c < 4; c++) {
      panels.push(<ScatterPanel key={`${r}-${c}`} row={r} col={c} />);
    }
  }
  return (
    <div
      style={{
        position: 'absolute',
        left: 0,
        top: 0,
        width: 791,
        height: 894,
        overflow: 'hidden',
        background: '#ffffff',
      }}
    >
      {panels}
      <BarPanel
        plotLeft={277}
        plotW={122}
        yW={34}
        title={['width/height', 'ratio']}
        mean={RATIO_MEAN}
        lo={RATIO_LO}
        hi={RATIO_HI}
        ticks={RATIO_TICKS}
        min={0.5}
        max={1.0}
        decimals={1}
      />
      <BarPanel
        plotLeft={426}
        plotW={124}
        yW={26}
        title={['deviation from y=x', '\uFF0845 degrees\uFF09']}
        mean={DEV_MEAN}
        lo={DEV_LO}
        hi={DEV_HI}
        ticks={DEV_TICKS}
        min={0}
        max={60}
        decimals={0}
      />
    </div>
  );
}
